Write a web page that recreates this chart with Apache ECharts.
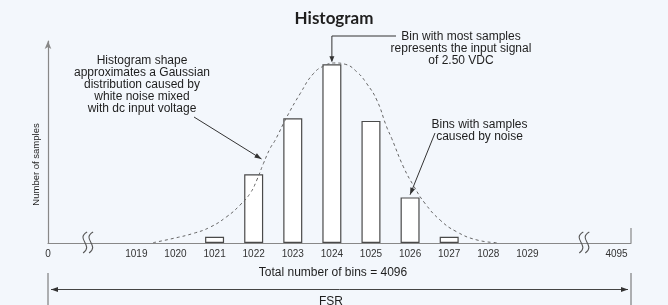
<!DOCTYPE html>
<html>
<head>
<meta charset="utf-8">
<script src="https://cdn.jsdelivr.net/npm/echarts@6/dist/echarts.min.js"></script>
<style>
html,body{margin:0;padding:0;background:#f3f7fc;}
#c{width:668px;height:305px;}
</style>
</head>
<body>
<div id="c"></div>
<script>
// ---- data ----
const binValues = [1021, 1022, 1023, 1024, 1025, 1026, 1027];
const sampleCounts = [3.5, 38.4, 69.8, 100, 68.3, 25.5, 3.5];
// Dashed Gaussian envelope: [bin position, samples]
const curveX = [1019.43, 1019.95, 1020.46, 1020.88, 1021.31, 1021.65, 1021.91, 1022.08, 1022.25, 1022.42, 1022.55, 1022.85, 1023.19, 1023.53, 1023.83, 1024.08, 1024.34, 1024.64, 1024.89, 1025.15, 1025.40, 1025.53, 1025.83, 1026.08, 1026.38, 1026.77, 1027.19, 1027.71, 1028.22];
const curveY = [0.2, 2.6, 5.4, 8.8, 14.7, 21.2, 27.8, 35.2, 44.5, 52.9, 57.5, 70.6, 83.6, 94.8, 99.4, 100.7, 100, 95.7, 89.2, 79.9, 65.0, 58.5, 42.6, 32.4, 22.2, 12.8, 6.3, 1.7, 0.2];
// x tick positions (axis is broken between 0 and 1019 and between 1029 and 4095)
const tickPositions = [1016.74, 1019, 1020, 1021, 1022, 1023, 1024, 1025, 1026, 1027, 1028, 1029, 1031.28];
const tickLabels = ['0', '1019', '1020', '1021', '1022', '1023', '1024', '1025', '1026', '1027', '1028', '1029', '4095'];
const breakPositions = [1017.74, 1030.43];
const axisMin = 1016.74, axisMax = 1031.65;

const FONT = '"Liberation Sans", Arial, sans-serif';
const INK = '#1e1e1e';
const LINE = '#4a4a4a';

const chart = echarts.init(document.getElementById('c'), null, {renderer: 'canvas'});
const option = {
  animation: false,
  backgroundColor: '#f3f7fc',
  title: {
    text: 'Histogram', left: 'center', top: 5,
    textStyle: {fontFamily: 'Lato', fontWeight: 'bold', fontSize: 17, color: INK}
  },
  grid: {left: 48, right: 37, top: 41, bottom: 62},
  xAxis: {
    type: 'value', min: axisMin, max: axisMax,
    axisLine: {lineStyle: {color: '#888', width: 1.2}},
    axisTick: {show: false},
    splitLine: {show: false},
    axisLabel: {
      customValues: tickPositions, showMinLabel: true, showMaxLabel: true,
      margin: 6, fontSize: 10, color: '#333', fontFamily: FONT,
      formatter: v => { const i = tickPositions.indexOf(v); return i >= 0 ? tickLabels[i] : ''; }
    }
  },
  yAxis: {
    type: 'value', min: 0, max: 113,
    axisLine: {show: true, symbol: ['none', 'arrow'], symbolSize: [5, 8], lineStyle: {color: '#888', width: 1.2}},
    axisTick: {show: false}, axisLabel: {show: false}, splitLine: {show: false}
  },
  series: [
    {
      type: 'bar', barWidth: 19,
      data: binValues.map((b, i) => [b, sampleCounts[i]]),
      itemStyle: {color: '#ffffff', borderColor: LINE, borderWidth: 1.2}
    },
    {
      type: 'line', smooth: true, showSymbol: false, symbol: 'none',
      data: curveX.map((x, i) => [x, curveY[i]]),
      lineStyle: {color: '#666', width: 1, type: [3, 3]},
      z: 3
    }
  ]
};
chart.setOption(option);

function px(x, y) { return chart.convertToPixel({gridIndex: 0}, [x, y]); }
function arrowHead(x1, y1, x2, y2, len, half) {
  const a = Math.atan2(y2 - y1, x2 - x1);
  const bx = x2 - len * Math.cos(a), by = y2 - len * Math.sin(a);
  const nx = -Math.sin(a) * half, ny = Math.cos(a) * half;
  return {type: 'polygon', shape: {points: [[x2, y2], [bx + nx, by + ny], [bx - nx, by - ny]]}, style: {fill: '#333'}, z: 10};
}
function textBlock(x, y, lines) {
  return {type: 'text', x: x, y: y, z: 10, style: {text: lines.join('\n'), align: 'center', verticalAlign: 'top', fontSize: 12, lineHeight: 12, fontFamily: FONT, fill: INK}};
}
const els = [];
// annotations
els.push(textBlock(142, 55, ['Histogram shape', 'approximates a Gaussian', 'distribution caused by', 'white noise mixed', 'with dc input voltage']));
els.push(textBlock(461, 31, ['Bin with most samples', 'represents the input signal', 'of 2.50 VDC']));
els.push(textBlock(479.5, 119, ['Bins with samples', 'caused by noise']));
// top arrow
const peak = px(1024, 100);
els.push({type: 'polyline', shape: {points: [[396, 36], [peak[0], 36], [peak[0], peak[1] - 3]]}, style: {stroke: '#333', lineWidth: 1, fill: null}, z: 10});
els.push(arrowHead(peak[0], 36, peak[0], peak[1] - 2, 6, 2.5));
// left arrow to curve
const lt = px(1022.2, 47);
els.push({type: 'line', shape: {x1: 194, y1: 117, x2: lt[0], y2: lt[1]}, style: {stroke: '#333', lineWidth: 1}, z: 10});
els.push(arrowHead(194, 117, lt[0], lt[1], 7, 2.5));
// right arrow to 1026 bar
const rt = px(1026, 27);
els.push({type: 'line', shape: {x1: 435, y1: 133, x2: rt[0], y2: rt[1]}, style: {stroke: '#333', lineWidth: 1}, z: 10});
els.push(arrowHead(435, 133, rt[0], rt[1], 7, 2.5));
// axis breaks
breakPositions.forEach(b => {
  const p = px(b, 0);
  [-3, 3].forEach(o => {
    const cx = p[0] + o;
    els.push({type: 'bezierCurve', shape: {x1: cx + 3, y1: p[1] - 11, cpx1: cx - 9, cpy1: p[1] - 4, cpx2: cx + 10, cpy2: p[1] + 2, x2: cx - 1, y2: p[1] + 10}, style: {stroke: '#555', lineWidth: 1.1, fill: null}, z: 10});
  });
});
// right end wall
const r0 = px(axisMax, 0);
els.push({type: 'line', shape: {x1: r0[0], y1: r0[1] - 15, x2: r0[0], y2: r0[1]}, style: {stroke: '#888', lineWidth: 1.2}, z: 10});
// y axis name
els.push({type: 'text', x: 36, y: 164.5, rotation: Math.PI / 2, z: 10, style: {text: 'Number of samples', align: 'center', verticalAlign: 'middle', fontSize: 9.5, fontFamily: FONT, fill: INK}});
// total bins
els.push({type: 'text', x: 333, y: 273, z: 10, style: {text: 'Total number of bins = 4096', align: 'center', verticalAlign: 'middle', fontSize: 12, fontFamily: FONT, fill: INK}});
// FSR span
const l0 = px(axisMin, 0);
els.push({type: 'line', shape: {x1: l0[0], y1: 273, x2: l0[0], y2: 305}, style: {stroke: '#666', lineWidth: 1}, z: 10});
els.push({type: 'line', shape: {x1: r0[0], y1: 273, x2: r0[0], y2: 305}, style: {stroke: '#666', lineWidth: 1}, z: 10});
els.push({type: 'line', shape: {x1: l0[0] + 3, y1: 289.5, x2: r0[0] - 3, y2: 289.5}, style: {stroke: '#444', lineWidth: 1}, z: 10});
els.push(arrowHead(r0[0], 289.5, l0[0] + 3, 289.5, 7, 2.5));
els.push(arrowHead(l0[0], 289.5, r0[0] - 3, 289.5, 7, 2.5));
els.push({type: 'text', x: 331, y: 302, z: 10, style: {text: 'FSR', align: 'center', verticalAlign: 'middle', fontSize: 12, fontFamily: FONT, fill: INK}});
chart.setOption({graphic: {elements: els}});
</script>
</body>
</html>
